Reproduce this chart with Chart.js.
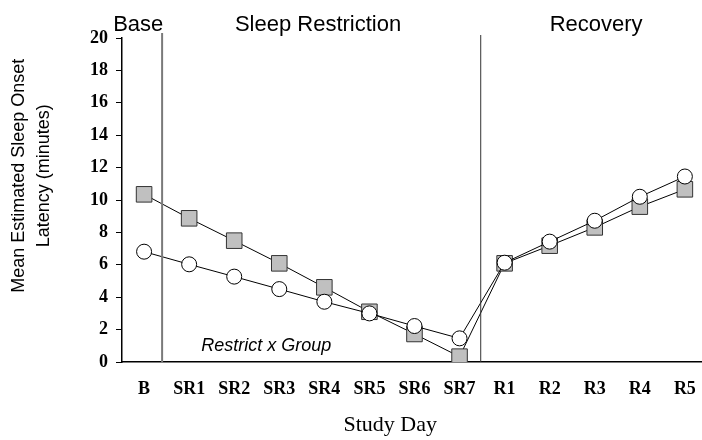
<!DOCTYPE html>
<html>
<head>
<meta charset="utf-8">
<script src="https://cdn.jsdelivr.net/npm/chart.js@4/dist/chart.umd.min.js"></script>
<style>
    body { margin: 0; background: #fff; }
    #wrap { width: 702px; height: 440px; }
</style>
</head>
<body>
<div id="wrap"><canvas id="solChart" width="702" height="440"></canvas></div>
<script>
// Data
const studyDays = ['B', 'SR1', 'SR2', 'SR3', 'SR4', 'SR5', 'SR6', 'SR7', 'R1', 'R2', 'R3', 'R4', 'R5'];
const squareGroup = [10.35, 8.87, 7.49, 6.09, 4.61, 3.1, 1.73, 0.33, 6.09, 7.18, 8.31, 9.59, 10.66];
const circleGroup = [6.81, 6.03, 5.27, 4.5, 3.72, 3.0, 2.22, 1.46, 6.13, 7.43, 8.72, 10.2, 11.45];
const yTicks = [0, 2, 4, 6, 8, 10, 12, 14, 16, 18, 20];
const phaseNames = ['Base', 'Sleep Restriction', 'Recovery'];
const yTitleLines = ['Mean Estimated Sleep Onset', 'Latency (minutes)'];
const xTitle = 'Study Day';
const noteText = 'Restrict x Group';

document.addEventListener('DOMContentLoaded', function() {
    const toPoints = arr => arr.map((v, i) => ({ x: i, y: v }));

    // phase dividers, headings, axis titles and the note inside the plot
    const annotations = {
        id: 'annotations',
        afterDatasetsDraw(chart) {
            const { ctx, chartArea, scales } = chart;
            const x = scales.x, y = scales.y;
            ctx.save();

            // dividers
            ctx.strokeStyle = '#7a7a7a';
            ctx.lineWidth = 2;
            ctx.beginPath();
            ctx.moveTo(x.getPixelForValue(0.4), chartArea.top - 5);
            ctx.lineTo(x.getPixelForValue(0.4), chartArea.bottom);
            ctx.stroke();

            ctx.strokeStyle = '#333';
            ctx.lineWidth = 1;
            ctx.beginPath();
            ctx.moveTo(x.getPixelForValue(7.47), chartArea.top - 3);
            ctx.lineTo(x.getPixelForValue(7.47), chartArea.bottom);
            ctx.stroke();

            // headings
            ctx.fillStyle = '#000';
            ctx.font = '22px "Liberation Sans", Arial, sans-serif';
            ctx.textAlign = 'center';
            ctx.textBaseline = 'middle';
            const headX = [-0.13, 3.86, 10.03];
            phaseNames.forEach((name, i) => {
                ctx.fillText(name, x.getPixelForValue(headX[i]), chartArea.top - 13);
            });

            // note
            ctx.font = 'italic 18px "Liberation Sans", Arial, sans-serif';
            ctx.fillText(noteText, x.getPixelForValue(2.71), y.getPixelForValue(1.0));

            // x title
            ctx.font = '22px "Liberation Serif", "Times New Roman", serif';
            ctx.fillText(xTitle, x.getPixelForValue(5.46), chartArea.bottom + 63);

            // y title, two rotated lines
            ctx.font = '18px "Liberation Sans", Arial, sans-serif';
            const midY = y.getPixelForValue(11.5);
            [19, 44].forEach((tx, i) => {
                ctx.save();
                ctx.translate(tx, midY);
                ctx.rotate(-Math.PI / 2);
                ctx.fillText(yTitleLines[i], 0, 0);
                ctx.restore();
            });
            ctx.restore();
        }
    };

    const ctx = document.getElementById('solChart').getContext('2d');
    new Chart(ctx, {
        type: 'line',
        data: {
            datasets: [{
                label: 'Circles',
                data: toPoints(circleGroup),
                borderColor: '#000',
                borderWidth: 1,
                pointStyle: 'circle',
                pointRadius: 7.5,
                pointBackgroundColor: '#fff',
                pointBorderColor: '#000',
                pointBorderWidth: 1
            }, {
                label: 'Squares',
                data: toPoints(squareGroup),
                borderColor: '#000',
                borderWidth: 1,
                pointStyle: 'rect',
                pointRadius: 11,
                pointBackgroundColor: '#c0c0c0',
                pointBorderColor: '#333',
                pointBorderWidth: 1
            }]
        },
        options: {
            responsive: false,
            animation: false,
            layout: { autoPadding: false, padding: { top: 38, right: 0, left: 0, bottom: 0 } },
            plugins: {
                legend: { display: false },
                tooltip: { enabled: false }
            },
            scales: {
                x: {
                    type: 'linear',
                    min: -0.49,
                    max: 12.38,
                    afterBuildTicks: scale => {
                        scale.ticks = studyDays.map((d, i) => ({ value: i }));
                    },
                    afterFit: scale => {
                        scale.height = 78;
                        scale.paddingLeft = 0;
                        scale.paddingRight = 0;
                    },
                    grid: { display: false, drawTicks: false },
                    border: { display: true, color: '#000', width: 1.5 },
                    ticks: {
                        callback: v => studyDays[v],
                        color: '#000',
                        font: { family: '"Liberation Serif", "Times New Roman", serif', size: 18, weight: 'bold' },
                        padding: 17,
                        maxRotation: 0,
                        autoSkip: false
                    }
                },
                y: {
                    min: 0,
                    max: 20,
                    afterBuildTicks: scale => {
                        scale.ticks = yTicks.map(v => ({ value: v }));
                    },
                    afterFit: scale => {
                        scale.width = 122;
                        scale.paddingTop = 0;
                        scale.paddingBottom = 0;
                    },
                    grid: { drawOnChartArea: false, tickLength: 6, color: '#000' },
                    border: { display: true, color: '#000', width: 1.5 },
                    ticks: {
                        color: '#000',
                        font: { family: '"Liberation Serif", "Times New Roman", serif', size: 18, weight: 'bold' },
                        padding: 8
                    }
                }
            }
        },
        plugins: [annotations]
    });
});
</script>
</body>
</html>
